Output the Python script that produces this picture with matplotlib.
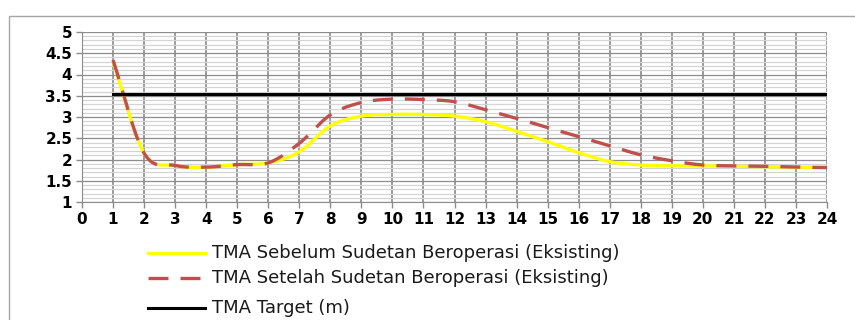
import numpy as np
import matplotlib.pyplot as plt
from matplotlib.lines import Line2D
from matplotlib.patches import Rectangle
from matplotlib.ticker import MultipleLocator

# hourly water level (m)
jam = list(range(1, 25))
tma_sebelum = [4.30, 2.15, 1.86, 1.82, 1.88, 1.92, 2.18, 2.79, 3.02, 3.06, 3.06, 3.02,
               2.89, 2.66, 2.42, 2.16, 1.95, 1.87, 1.85, 1.85, 1.84, 1.83, 1.82, 1.82]
tma_setelah = [4.34, 2.15, 1.86, 1.82, 1.88, 1.92, 2.38, 3.05, 3.34, 3.42, 3.41, 3.36,
               3.17, 2.97, 2.75, 2.54, 2.32, 2.11, 1.97, 1.87, 1.85, 1.84, 1.82, 1.81]
tma_target = 3.55

labels = ['TMA Sebelum Sudetan Beroperasi (Eksisting)',
          'TMA Setelah Sudetan Beroperasi (Eksisting)',
          'TMA Target (m)']


def smooth(x, y, n=20):
    # Catmull-Rom spline through the points, like a smoothed line chart
    x = np.asarray(x, float)
    y = np.asarray(y, float)
    px = np.concatenate([[2 * x[0] - x[1]], x, [2 * x[-1] - x[-2]]])
    py = np.concatenate([[2 * y[0] - y[1]], y, [2 * y[-1] - y[-2]]])
    xs, ys = [], []
    t = np.linspace(0, 1, n, endpoint=False)
    for i in range(1, len(px) - 2):
        for arr, out in ((px, xs), (py, ys)):
            p0, p1, p2, p3 = arr[i - 1], arr[i], arr[i + 1], arr[i + 2]
            out.extend(0.5 * (2 * p1 + (-p0 + p2) * t
                              + (2 * p0 - 5 * p1 + 4 * p2 - p3) * t ** 2
                              + (-p0 + 3 * p1 - 3 * p2 + p3) * t ** 3))
    xs.append(x[-1])
    ys.append(y[-1])
    return np.array(xs), np.array(ys)


W, H = 855, 320
fig = plt.figure(figsize=(W / 100, H / 100), dpi=100)

# chart frame
fig.patches.append(Rectangle((9 / W, -0.1), 1.0, 1 - 16 / H + 0.1, transform=fig.transFigure,
                             fill=False, edgecolor='#a6a6a6', linewidth=1.0))

ax = fig.add_axes([82 / W, 1 - 202 / H, (827 - 82) / W, (202 - 32) / H])

yellow = dict(color='#ffff00', lw=2.4, solid_capstyle='butt')
red = dict(color='#c0504d', lw=2.4, dashes=(6, 3.6), dash_capstyle='butt')
black = dict(color='black', lw=2.2)

sx, sy = smooth(jam, tma_sebelum)
ax.plot(sx, sy, zorder=3, **yellow)
sx, sy = smooth(jam, tma_setelah)
ax.plot(sx, sy, zorder=4, **red)
ax.plot([jam[0], jam[-1]], [tma_target, tma_target], zorder=5, **black)

ax.set_xlim(0, 24)
ax.set_ylim(1, 5)
ax.xaxis.set_major_locator(MultipleLocator(1))
ax.yaxis.set_major_locator(MultipleLocator(0.5))
ax.yaxis.set_minor_locator(MultipleLocator(0.1))
ax.set_yticklabels([f'{v:g}' for v in ax.get_yticks()])

ax.grid(axis='x', which='major', color='#9a9a9a', lw=1.4)
ax.grid(axis='y', which='major', color='#8c8c8c', lw=0.9)
ax.grid(axis='y', which='minor', color='#d4d4d4', lw=0.9)
ax.set_axisbelow(True)

for side in ('top', 'right'):
    ax.spines[side].set_visible(False)
ax.spines['left'].set_color('#8c8c8c')
ax.spines['bottom'].set_color('#8c8c8c')
ax.tick_params(axis='both', which='major', length=4, color='#8c8c8c', width=1.0,
               labelsize=11, pad=3)
ax.tick_params(axis='y', which='minor', length=0)
for lab in ax.get_xticklabels() + ax.get_yticklabels():
    lab.set_fontweight('bold')

# legend below the chart
rows = [253, 278, 308]
styles = [yellow, red, black]
for yrow, st, text in zip(rows, styles, labels):
    yf = 1 - yrow / H
    kw = dict(st)
    kw.pop('solid_capstyle', None)
    line = Line2D([148 / W, 205 / W], [yf, yf], transform=fig.transFigure, **kw)
    fig.lines.append(line)
    fig.text(212 / W, yf, text, fontsize=13, va='center', ha='left', color='#1a1a1a')

fig.savefig('out.png', dpi=100)
